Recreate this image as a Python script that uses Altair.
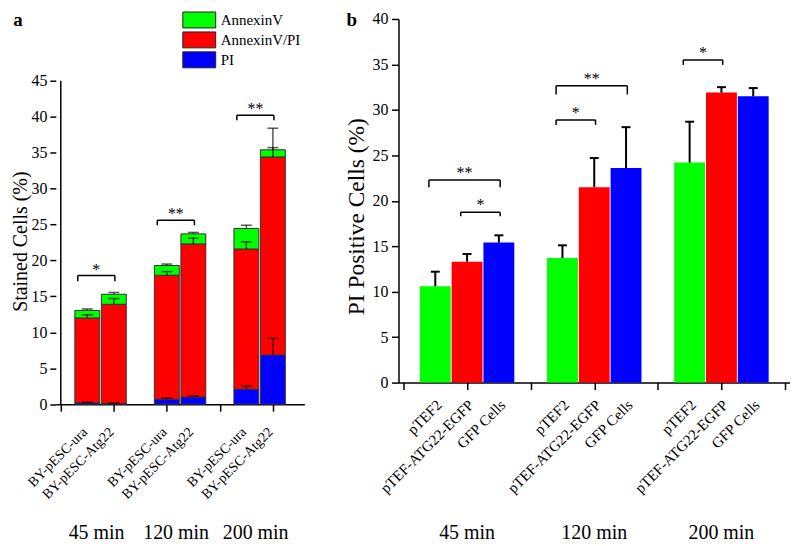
import altair as alt
import pandas as pd

FONT = "Liberation Serif"

# ---------------- Panel a data ----------------
A_GROUPS = ["45 min", "120 min", "200 min"]
A_STRAINS = ["BY-pESC-ura", "BY-pESC-Atg22"]
A_SERIES = ["AnnexinV", "AnnexinV/PI", "PI"]
A_COLORS = ["#00ff00", "#ff0000", "#0000ff"]
# segment heights, order: 45 ura, 45 atg22, 120 ura, 120 atg22, 200 ura, 200 atg22
A_PI = [0.2, 0.1, 0.7, 1.0, 2.1, 6.85]
A_PI_ERR = [0.05, 0.05, 0.15, 0.15, 0.45, 2.3]
A_AVPI = [11.8, 13.8, 17.25, 21.3, 19.5, 27.55]
A_AVPI_ERR = [0.45, 0.8, 0.5, 0.8, 1.0, 1.3]
A_AV = [1.05, 1.4, 1.35, 1.4, 2.85, 1.0]
A_AV_ERR = [0.2, 0.25, 0.2, 0.2, 0.45, 3.0]
# significance brackets
A_SIG_GROUP = [0, 1, 2]
A_SIG_Y = [17.9, 25.6, 40.2]
A_SIG_LEG = [0.8, 0.7, 0.7]
A_SIG_LABEL = ["*", "**", "**"]

# ---------------- Panel b data ----------------
B_GROUPS = ["45 min", "120 min", "200 min"]
B_STRAINS = ["pTEF2", "pTEF-ATG22-EGFP", "GFP Cells"]
B_COLORS = ["#00ff00", "#ff0000", "#0000ff"]
B_VALUES = [[10.6, 13.3, 15.4], [13.7, 21.5, 23.6], [24.2, 31.9, 31.5]]
B_ERRORS = [[1.6, 0.85, 0.8], [1.4, 3.2, 4.5], [4.5, 0.6, 0.9]]
B_SIG_GROUP = [0, 0, 1, 1, 2]
B_SIG_FROM = [0, 1, 0, 0, 0]
B_SIG_TO = [2, 2, 1, 2, 1]
B_SIG_Y = [22.3, 18.75, 28.9, 32.65, 35.5]
B_SIG_LEG = [0.8, 0.45, 0.55, 0.95, 0.55]
B_SIG_LABEL = ["**", "*", "*", "**", "*"]

# ---------------- geometry ----------------
A_W, A_H = 249.5, 386.7
A_YMAX = A_H / 7.215
B_W, B_H, B_YMAX = 393, 365, 40
SPACING = 94

# ---------------- Panel a tables ----------------
rows = []
series_data = [("PI", A_PI, A_PI_ERR), ("AnnexinV/PI", A_AVPI, A_AVPI_ERR), ("AnnexinV", A_AV, A_AV_ERR)]
for gi, g in enumerate(A_GROUPS):
    for si, s in enumerate(A_STRAINS):
        i = gi * 2 + si
        slot = 1 + 3 * gi + si
        base = 0.0
        for order, (ser, vals, errs) in enumerate(series_data):
            top = base + vals[i]
            rows.append(dict(group=g, strain=s, slot=slot, series=ser, order=order,
                             lo=base, top=top, etop=top + errs[i]))
            base = top
dfA = pd.DataFrame(rows)
lblA = dfA[dfA["order"] == 0][["slot", "strain"]]

segA, starA = [], []
for g, y, leg, lab in zip(A_SIG_GROUP, A_SIG_Y, A_SIG_LEG, A_SIG_LABEL):
    x1 = 1 + 3 * g - 0.36
    x2 = 2 + 3 * g + 0.04
    segA += [dict(x=x1, x2=x2, y=y, y2=y), dict(x=x1, x2=x1, y=y - leg, y2=y),
             dict(x=x2, x2=x2, y=y - leg, y2=y)]
    starA.append(dict(x=(x1 + x2) / 2, y=y, t=lab))
segA, starA = pd.DataFrame(segA), pd.DataFrame(starA)
grpA = pd.DataFrame({"x": [1.5 + 3 * i for i in range(3)], "t": A_GROUPS})

xA = alt.Scale(domain=[0, 9], nice=False, zero=False)
yA = alt.Scale(domain=[0, A_YMAX], nice=False)
axA_x = alt.Axis(values=list(range(10)), labels=False, tickSize=7, title=None)
axA_y = alt.Axis(values=list(range(0, 50, 5)), domain=False, tickSize=6, labelPadding=3,
                 labelFontSize=16, title="Stained Cells (%)", titleFontSize=20,
                 titleX=-25.5, titleY=223)

legA = alt.Legend(title=None, orient="none", legendX=135, legendY=-8, padding=0,
                  symbolType="M-2,-0.97H2V0.97H-2Z", symbolSize=272,
                  symbolStrokeColor="#222", symbolStrokeWidth=1, symbolOpacity=1,
                  labelFontSize=15, labelOffset=12.5, rowPadding=0, labelColor="black")

barsA = alt.Chart(dfA).mark_bar(size=25, stroke="#333", strokeWidth=1).encode(
    x=alt.X("slot:Q", scale=xA, axis=axA_x),
    y=alt.Y("lo:Q", scale=yA, axis=axA_y),
    y2="top:Q",
    color=alt.Color("series:N", scale=alt.Scale(domain=A_SERIES, range=A_COLORS), legend=legA),
)
errA = alt.Chart(dfA).mark_rule(color="black", strokeWidth=1.5, opacity=0.65).encode(
    x="slot:Q", y="top:Q", y2="etop:Q")
capA = alt.Chart(dfA).mark_tick(orient="horizontal", size=11, thickness=1.5,
                                color="black", opacity=0.65).encode(x="slot:Q", y="etop:Q")
yaxisA = alt.Chart(pd.DataFrame({"x": [0], "y": [0], "y2": [45]})).mark_rule(
    color="black", strokeWidth=1.5).encode(x="x:Q", y="y:Q", y2="y2:Q")
bracketA = alt.Chart(segA).mark_rule(color="black", strokeWidth=1.5).encode(
    x="x:Q", x2="x2:Q", y="y:Q", y2="y2:Q")
starsA = alt.Chart(starA).mark_text(fontSize=16, baseline="alphabetic", dy=-1,
                                    color="black").encode(x="x:Q", y="y:Q", text="t:N")
tickLblA = alt.Chart(lblA).mark_text(fontSize=14, angle=315, align="right", baseline="middle",
                                     color="black").encode(
    x="slot:Q", xOffset=alt.value(-2), y=alt.value(A_H + 26), text="strain:N")
groupA = alt.Chart(grpA).mark_text(fontSize=20, baseline="middle", dx=-4,
                                   color="black").encode(x="x:Q", y=alt.value(516), text="t:N")
tagA = alt.Chart(pd.DataFrame({"t": ["a"]})).mark_text(
    fontSize=19, fontWeight="bold", baseline="alphabetic", color="black").encode(
    x=alt.value(-38), y=alt.value(7), text="t:N")

panelA = alt.layer(barsA, errA, capA, yaxisA, bracketA, starsA, tickLblA, groupA, tagA).properties(
    width=A_W, height=A_H)

# ---------------- Panel b tables ----------------
rowsB = []
for gi, g in enumerate(B_GROUPS):
    for si, s in enumerate(B_STRAINS):
        v = B_VALUES[gi][si]
        rowsB.append(dict(group=g, strain=s, slot=1 + 4 * gi + si, value=v,
                          etop=v + B_ERRORS[gi][si]))
dfB = pd.DataFrame(rowsB)

segB, starB = [], []
for g, f, t, y, leg, lab in zip(B_SIG_GROUP, B_SIG_FROM, B_SIG_TO, B_SIG_Y, B_SIG_LEG, B_SIG_LABEL):
    x1 = 1 + 4 * g + f - 0.2
    x2 = 1 + 4 * g + t + 0.04
    segB += [dict(x=x1, x2=x2, y=y, y2=y), dict(x=x1, x2=x1, y=y - leg, y2=y),
             dict(x=x2, x2=x2, y=y - leg, y2=y)]
    starB.append(dict(x=(x1 + x2) / 2, y=y, t=lab))
segB, starB = pd.DataFrame(segB), pd.DataFrame(starB)
grpB = pd.DataFrame({"x": [2 + 4 * i for i in range(3)], "t": B_GROUPS})

xB = alt.Scale(domain=[0, 12], nice=False, zero=False)
yB = alt.Scale(domain=[0, B_YMAX], nice=False)
axB_x = alt.Axis(values=list(range(13)), labels=False, tickSize=7, title=None)
axB_y = alt.Axis(values=list(range(0, 45, 5)), tickSize=7, labelPadding=3.5,
                 labelFontSize=16, title="PI Positive Cells (%)", titleFontSize=23.5,
                 titleX=-30.5, titleY=198)

barsB = alt.Chart(dfB).mark_bar(size=31).encode(
    x=alt.X("slot:Q", scale=xB, axis=axB_x),
    y=alt.Y("value:Q", scale=yB, axis=axB_y),
    color=alt.Color("strain:N", scale=alt.Scale(domain=B_STRAINS, range=B_COLORS), legend=None),
)
errB = alt.Chart(dfB).mark_rule(color="black", strokeWidth=2).encode(
    x="slot:Q", y="value:Q", y2="etop:Q")
capB = alt.Chart(dfB).mark_tick(orient="horizontal", size=9, thickness=2,
                                color="black", opacity=1).encode(x="slot:Q", y="etop:Q")
bracketB = alt.Chart(segB).mark_rule(color="black", strokeWidth=1.5).encode(
    x="x:Q", x2="x2:Q", y="y:Q", y2="y2:Q")
starsB = alt.Chart(starB).mark_text(fontSize=16, baseline="alphabetic", dy=-2,
                                    color="black").encode(x="x:Q", y="y:Q", text="t:N")
tickLblB = alt.Chart(dfB).mark_text(fontSize=15, angle=315, align="right", baseline="middle",
                                    color="black").encode(
    x="slot:Q", xOffset=alt.value(4), y=alt.value(B_H + 20), text="strain:N")
groupB = alt.Chart(grpB).mark_text(fontSize=20, baseline="middle",
                                   color="black").encode(x="x:Q", y=alt.value(516), text="t:N")
tagB = alt.Chart(pd.DataFrame({"t": ["b"]})).mark_text(
    fontSize=19, fontWeight="bold", baseline="alphabetic", color="black").encode(
    x=alt.value(-47), y=alt.value(7), text="t:N")

panelB = alt.layer(barsB, errB, capB, bracketB, starsB, tickLblB, groupB, tagB).properties(
    width=B_W, height=B_H)

chart = alt.hconcat(panelA, panelB, spacing=SPACING, bounds="flush").resolve_scale(
    color="independent"
).properties(
    padding={"left": 2, "top": 2, "right": 0, "bottom": 0}
).configure(font=FONT).configure_view(stroke=None).configure_axis(
    grid=False, domainColor="black", tickColor="black", labelColor="black",
    titleColor="black", domainWidth=1.5, tickWidth=1.5, titleFontWeight="normal",
    labelFont=FONT, titleFont=FONT
).configure_legend(labelFont=FONT)

chart.save("out.html", embed_options={"renderer": "svg", "actions": False})
